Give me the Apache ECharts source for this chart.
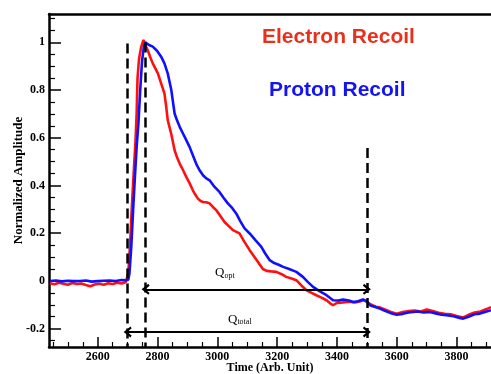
<!DOCTYPE html>
<html>
<head>
<meta charset="utf-8">
<script src="https://cdn.jsdelivr.net/npm/echarts@6/dist/echarts.min.js"></script>
<style>html,body{margin:0;padding:0;background:#fff}#c{width:491px;height:374px}</style>
</head>
<body>
<div id="c"></div>
<script>
// Electron recoil (red)
var timeE = [2440,2455,2470,2485,2500,2515,2530,2545,2560,2575,2590,2605,2620,2635,2650,2665,2680,2693,2698,2702,2708,2714,2720,2726,2730,2733,2738,2745,2753,2760,2767,2775,2784,2793,2801,2812,2823,2829,2834,2846,2857,2866,2874,2885,2896,2907,2918,2927,2935,2944,2952,2963,2974,2985,2996,3010,3024,3038,3052,3074,3090,3108,3130,3152,3165,3180,3197,3215,3230,3248,3264,3280,3298,3315,3331,3348,3365,3378,3387,3400,3420,3440,3460,3476,3490,3500,3515,3530,3545,3560,3580,3600,3620,3640,3660,3680,3700,3720,3740,3760,3780,3800,3822,3840,3860,3880,3900,3915];
var ampE = [-0.010,-0.014,-0.008,-0.012,-0.016,-0.009,-0.013,-0.011,-0.017,-0.022,-0.015,-0.012,-0.016,-0.010,-0.013,-0.008,-0.011,-0.006,0.0,0.03,0.15,0.31,0.45,0.58,0.70,0.85,0.93,0.98,1.01,0.985,0.968,0.94,0.912,0.89,0.87,0.828,0.786,0.73,0.674,0.615,0.548,0.515,0.492,0.465,0.436,0.41,0.38,0.36,0.345,0.335,0.331,0.33,0.325,0.31,0.297,0.272,0.247,0.23,0.213,0.199,0.165,0.129,0.09,0.05,0.042,0.04,0.038,0.028,0.017,0.01,0.003,-0.018,-0.039,-0.05,-0.06,-0.07,-0.081,-0.095,-0.102,-0.092,-0.09,-0.087,-0.09,-0.086,-0.08,-0.088,-0.1,-0.108,-0.112,-0.12,-0.13,-0.138,-0.13,-0.126,-0.124,-0.128,-0.12,-0.126,-0.133,-0.138,-0.14,-0.147,-0.153,-0.142,-0.132,-0.128,-0.118,-0.11];
// Proton recoil (blue)
var timeP = [2440,2460,2480,2500,2520,2540,2560,2580,2600,2620,2640,2660,2680,2695,2702,2706,2712,2718,2724,2730,2736,2742,2748,2754,2759,2770,2784,2798,2812,2823,2834,2846,2857,2866,2874,2885,2896,2907,2918,2929,2940,2952,2963,2974,2990,3007,3020,3035,3050,3063,3077,3091,3108,3128,3147,3160,3175,3190,3205,3220,3240,3264,3286,3303,3320,3340,3365,3387,3405,3420,3440,3454,3470,3487,3498,3510,3525,3543,3560,3580,3600,3620,3640,3655,3670,3690,3710,3730,3750,3766,3790,3810,3822,3840,3860,3878,3895,3915];
var ampP = [0.000,0.002,-0.002,0.001,-0.001,0.000,0.002,-0.003,-0.001,0.001,0.002,0.000,0.004,0.003,0.005,0.03,0.14,0.29,0.43,0.56,0.66,0.80,0.92,0.98,1.0,0.99,0.982,0.965,0.94,0.912,0.87,0.80,0.702,0.67,0.646,0.618,0.59,0.562,0.527,0.492,0.465,0.443,0.43,0.422,0.395,0.373,0.35,0.325,0.305,0.283,0.25,0.22,0.199,0.17,0.143,0.115,0.087,0.075,0.068,0.059,0.05,0.038,0.017,-0.005,-0.025,-0.042,-0.06,-0.081,-0.082,-0.078,-0.082,-0.088,-0.085,-0.078,-0.085,-0.102,-0.108,-0.116,-0.125,-0.135,-0.142,-0.138,-0.132,-0.13,-0.128,-0.132,-0.13,-0.136,-0.142,-0.144,-0.148,-0.155,-0.158,-0.15,-0.14,-0.137,-0.13,-0.123];

var xMajor = [2600,2800,3000,3200,3400,3600,3800];
var xMinor = [2450,2500,2550,2650,2700,2750,2850,2900,2950,3050,3100,3150,3250,3300,3350,3450,3500,3550,3650,3700,3750,3850,3900];
var yMajor = [-0.2,0,0.2,0.4,0.6,0.8,1];
var yMinor = [-0.25,-0.15,-0.1,-0.05,0.05,0.1,0.15,0.25,0.3,0.35,0.45,0.5,0.55,0.65,0.7,0.75,0.85,0.9,0.95,1.05,1.1];

// annotation values
var tStart = 2700, tPeak = 2760, tEnd = 3500;
var qOptY = -0.035, qTotalY = -0.214;

var XMIN = 2437, XMAX = 3915, YMIN = -0.277, YMAX = 1.119;
var serif = 'Liberation Serif';
function zip(a, b) { return a.map(function (v, i) { return [v, b[i]]; }); }
function plain(v) { return String(v); }

var chevron = 'path://M5 0 L10 7 L8.3 8.2 L5 3.8 L1.7 8.2 L0 7 Z';
var axisLineStyle = { color: '#000', width: 2.5 };

var chart = echarts.init(document.getElementById('c'), null, { renderer: 'canvas' });
chart.setOption({
  animation: false,
  backgroundColor: '#fff',
  grid: { left: 49, right: 0, top: 14, bottom: 27, containLabel: false, outerBoundsMode: 'none' },
  xAxis: [
    { type: 'value', min: XMIN, max: XMAX, position: 'bottom',
      name: 'Time (Arb. Unit)', nameLocation: 'middle', nameGap: 15, nameMoveOverlap: false,
      nameTextStyle: { fontFamily: serif, fontWeight: 'bold', fontSize: 12, color: '#000' },
      axisLine: { show: true, onZero: false, lineStyle: axisLineStyle },
      axisTick: { show: true, inside: true, length: 10, lineStyle: { color: '#000', width: 1.5 }, customValues: xMajor },
      axisLabel: { customValues: xMajor, formatter: plain, fontFamily: serif, fontWeight: 'bold', fontSize: 12, color: '#000', margin: 4 },
      splitLine: { show: false } },
    { type: 'value', min: XMIN, max: XMAX, position: 'bottom',
      axisLine: { show: false, onZero: false },
      axisTick: { show: true, inside: true, length: 5, lineStyle: { color: '#000', width: 1.2 }, customValues: xMinor },
      axisLabel: { show: false }, splitLine: { show: false } },
    { type: 'value', min: XMIN, max: XMAX, position: 'top',
      axisLine: { show: true, onZero: false, lineStyle: axisLineStyle },
      axisTick: { show: false }, axisLabel: { show: false }, splitLine: { show: false } }
  ],
  yAxis: [
    { type: 'value', min: YMIN, max: YMAX, position: 'left',
      name: 'Normalized Amplitude', nameLocation: 'middle', nameGap: 24, nameRotate: 90, nameMoveOverlap: false,
      nameTextStyle: { fontFamily: serif, fontWeight: 'bold', fontSize: 13, color: '#000' },
      axisLine: { show: true, onZero: false, lineStyle: axisLineStyle },
      axisTick: { show: true, inside: true, length: 12, lineStyle: { color: '#000', width: 1.5 }, customValues: yMajor },
      axisLabel: { customValues: yMajor, formatter: plain, fontFamily: serif, fontWeight: 'bold', fontSize: 12, color: '#000', margin: 4 },
      splitLine: { show: false } },
    { type: 'value', min: YMIN, max: YMAX, position: 'left',
      axisLine: { show: false, onZero: false },
      axisTick: { show: true, inside: true, length: 6, lineStyle: { color: '#000', width: 1.2 }, customValues: yMinor },
      axisLabel: { show: false }, splitLine: { show: false } }
  ],
  series: [
    { type: 'line', name: 'Electron Recoil', data: zip(timeE, ampE), showSymbol: false, symbol: 'none',
      lineStyle: { color: '#ff1010', width: 2.6 }, z: 3 },
    { type: 'line', name: 'Proton Recoil', data: zip(timeP, ampP), showSymbol: false, symbol: 'none',
      lineStyle: { color: '#1010ff', width: 2.6 }, z: 4,
      markLine: {
        silent: true, animation: false, symbol: ['none', 'none'],
        label: { show: false },
        lineStyle: { color: '#000', width: 2.5, type: [10, 5] },
        data: [
          [{ coord: [tStart, 0.995] }, { coord: [tStart, YMIN] }],
          [{ coord: [tPeak, 1.0] }, { coord: [tPeak, YMIN] }],
          [{ coord: [tEnd, 0.557] }, { coord: [tEnd, YMIN] }],
          [{ coord: [tPeak, qOptY], symbol: chevron, symbolSize: [11, 8], lineStyle: { type: 'solid', width: 2.2 } },
           { coord: [tEnd, qOptY], symbol: chevron, symbolSize: [11, 8] }],
          [{ coord: [tStart, qTotalY], symbol: chevron, symbolSize: [11, 8], lineStyle: { type: 'solid', width: 2.2 } },
           { coord: [tEnd, qTotalY], symbol: chevron, symbolSize: [11, 8] }]
        ]
      },
      markPoint: {
        silent: true, animation: false, symbol: 'circle', symbolSize: 0,
        label: { show: true, position: 'inside',
          rich: {
            q: { fontFamily: serif, fontSize: 13, color: '#000' },
            s: { fontFamily: serif, fontSize: 8, color: '#000', verticalAlign: 'bottom', padding: [6, 0, 0, 0] }
          } },
        data: [
          { coord: [3025, 0.034], label: { formatter: '{q|Q}{s|opt}' } },
          { coord: [3075, -0.16], label: { formatter: '{q|Q}{s|total}' } }
        ]
      } }
  ],
  graphic: [
    { type: 'text', left: 262, top: 27, style: { text: 'Electron Recoil', fill: '#e8301c', font: 'bold 21px "Liberation Sans"' } },
    { type: 'text', left: 269, top: 80, style: { text: 'Proton Recoil', fill: '#1414f0', font: 'bold 21px "Liberation Sans"' } }
  ]
});
</script>
</body>
</html>
